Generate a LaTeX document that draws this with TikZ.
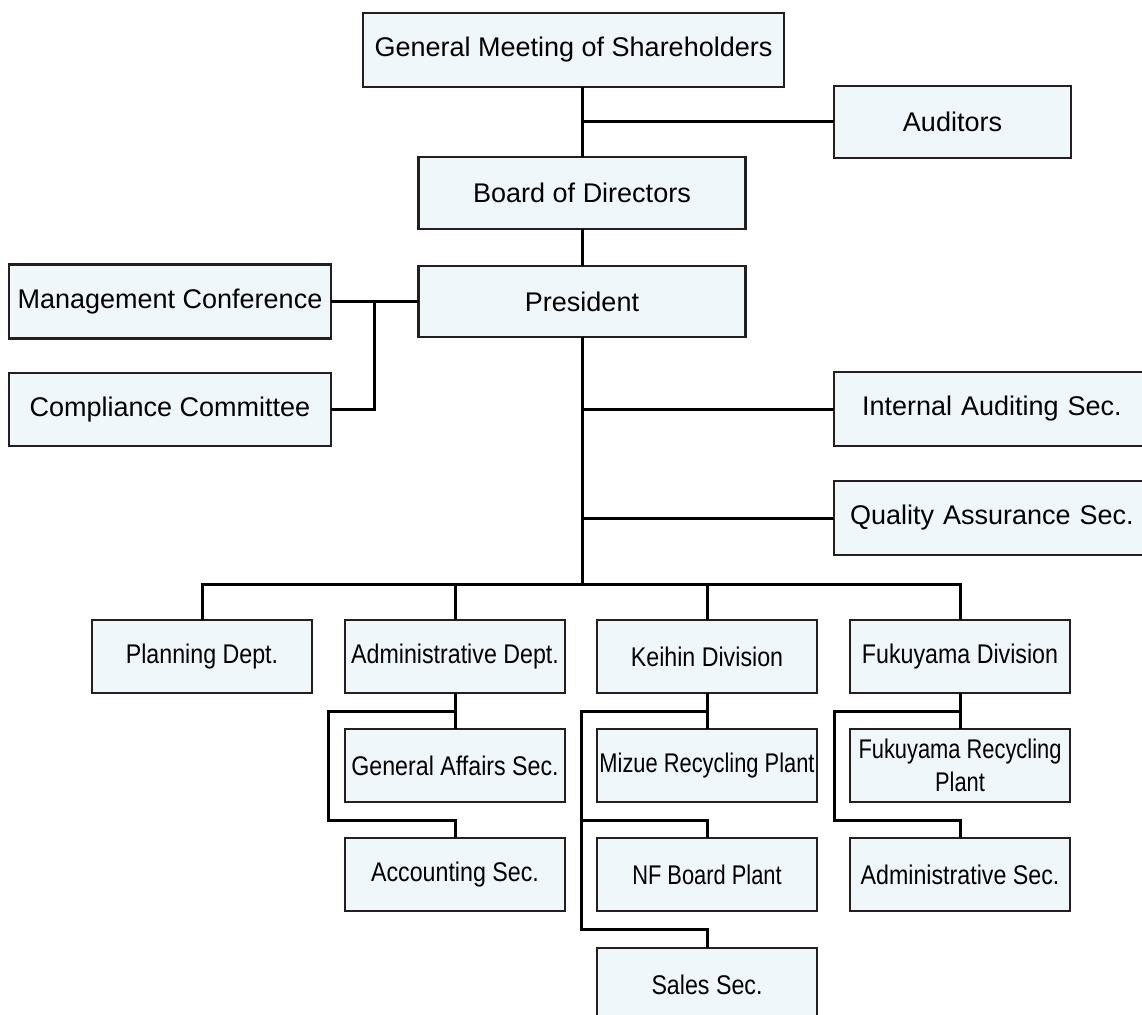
\documentclass[tikz,border=0pt]{standalone}
\usepackage{fontspec}
\usepackage{tikz}
\setmainfont{Liberation Sans}
\newfontfamily\narrowfont{Liberation Sans}[FakeStretch=0.86]
\newfontfamily\tightfont{Liberation Sans}[FakeStretch=0.81]
\definecolor{boxfill}{RGB}{239,247,250}
\definecolor{ink}{RGB}{35,31,32}

\begin{document}
\begin{tikzpicture}[x = 1pt, y = -1pt, line width = 3pt,
    box/.style = {rectangle, draw = ink, fill = boxfill, line width = 2.6pt,
        inner sep = 0pt, outer sep = 0pt, align = center,
        font = \fontsize{27}{32}\selectfont},
    unit/.style = {box, minimum width = 220pt, minimum height = 73pt,
        font = \narrowfont\fontsize{27}{33}\selectfont},
    tight/.style = {unit, font = \tightfont\fontsize{27}{33}\selectfont}]
\clip (0,0) rectangle (1142,1014);
\path (573.5,50) node[box, minimum width = 421pt, minimum height = 74pt](gm){General Meeting of Shareholders}
    (952.5,122) node[box, minimum width = 237pt, minimum height = 72pt](au){Auditors}
    (582,193) node[box, minimum width = 327pt, minimum height = 72pt](bd){Board of Directors}
    (582,301.5) node[box, minimum width = 327pt, minimum height = 71pt](pr){President}
    (170,301.5) node[box, minimum width = 322pt, minimum height = 74pt](mc){Management Conference}
    (170,409.5) node[box, minimum width = 322pt, minimum height = 73pt](cc){Compliance Committee}
    (997,409) node[box, minimum width = 326pt, minimum height = 74pt, text width = 300pt, align = left](ia){\hspace*{15pt}Internal Auditing Sec.}
    (997,518) node[box, minimum width = 326pt, minimum height = 74pt, text width = 300pt, align = left](qa){\hspace*{3pt}Quality Assurance Sec.};
\path (202,656.5) node[unit](pl){Planning Dept.}
    (455,656.5) node[unit](ad){Administrative Dept.}
    (707,656.5) node[unit](kh){Keihin Division}
    (960,656.5) node[unit](fk){Fukuyama Division}
    (455,765.5) node[unit](ga){General Affairs Sec.}
    (707,765.5) node[tight](mz){Mizue Recycling Plant}
    (960,765.5) node[tight](fr){Fukuyama Recycling\\Plant}
    (455,874.5) node[unit](ac){Accounting Sec.}
    (707,874.5) node[tight](nf){NF Board Plant}
    (960,874.5) node[unit](am){Administrative Sec.}
    (707,984.5) node[unit](sl){Sales Sec.};
\coordinate (t) at (582,584);
\coordinate (j) at (374,301.5);
\coordinate (ra) at (328,711);
\coordinate (rb) at (328,820);
\coordinate (rc) at (581,711);
\coordinate (rd) at (581,820);
\coordinate (re) at (581,929);
\coordinate (rf) at (834,711);
\coordinate (rg) at (834,820);
\draw [-] (gm.south -| bd) -- (bd.north);
\draw [-] (au.west) -- (au.west -| bd);
\draw [-] (bd.south) -- (pr.north);
\draw [-] (pr.south) -- (t);
\draw [-] (mc.east) -- (pr.west);
\draw [-] (cc.east) -| (j);
\draw [-] (ia.west) -- (ia.west -| t);
\draw [-] (qa.west) -- (qa.west -| t);
\draw [-] (pl.north) |- (t) -| (fk.north);
\draw [-] (ad.north) -- (ad.north |- t);
\draw [-] (kh.north) -- (kh.north |- t);
\draw [-] (ad.south) -- (ga.north);
\draw [-] (ad.south |- ra) -- (ra) -- (rb) -| (ac.north);
\draw [-] (kh.south) -- (mz.north);
\draw [-] (kh.south |- rc) -- (rc) -- (re) -| (sl.north);
\draw [-] (rd) -| (nf.north);
\draw [-] (fk.south) -- (fr.north);
\draw [-] (fk.south |- rf) -- (rf) -- (rg) -| (am.north);
\end{tikzpicture}
\end{document}
